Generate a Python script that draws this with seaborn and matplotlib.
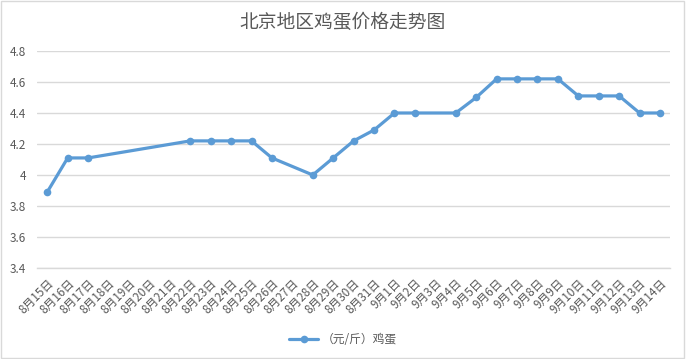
import numpy as np
import pandas as pd
import matplotlib
matplotlib.use("Agg")
import matplotlib.pyplot as plt
import matplotlib.patches as mpatches
import seaborn as sns

# Data
dates = ["8月15日", "8月16日", "8月17日", "8月18日", "8月19日", "8月20日", "8月21日",
         "8月22日", "8月23日", "8月24日", "8月25日", "8月26日", "8月27日", "8月28日",
         "8月29日", "8月30日", "8月31日", "9月1日", "9月2日", "9月3日", "9月4日",
         "9月5日", "9月6日", "9月7日", "9月8日", "9月9日", "9月10日", "9月11日",
         "9月12日", "9月13日", "9月14日"]
prices = [3.89, 4.11, 4.11, None, None, None, None,
          4.22, 4.22, 4.22, 4.22, 4.11, None, 4.00,
          4.11, 4.22, 4.29, 4.40, 4.40, None, 4.40,
          4.50, 4.62, 4.62, 4.62, 4.62, 4.51, 4.51,
          4.51, 4.40, 4.40]
series_name = "（元/斤）鸡蛋"
title = "北京地区鸡蛋价格走势图"
yticks = [3.4, 3.6, 3.8, 4.0, 4.2, 4.4, 4.6, 4.8]
ytick_labels = ["3.4", "3.6", "3.8", "4", "4.2", "4.4", "4.6", "4.8"]

# Style
sns.set_style("white")
plt.rcParams["font.family"] = ["Noto Sans CJK SC", "DejaVu Sans"]
BLUE = "#5B9BD5"
GRID = "#D9D9D9"
TEXT = "#595959"

df = pd.DataFrame({"date": dates, "price": prices})
df["pos"] = np.arange(len(df))
pts = df.dropna()

fig = plt.figure(figsize=(6.86, 3.59), dpi=100)
ax = fig.add_axes([0.054, 0.2535, 0.923, 0.6045])

sns.lineplot(data=pts, x="pos", y="price", ax=ax, color=BLUE, linewidth=2.3,
             marker="o", markersize=5.5, markeredgewidth=0, label=series_name)

ax.set_xlim(-0.5, len(dates) - 0.5)
ax.set_ylim(3.4, 4.8)
ax.set_yticks(yticks)
ax.set_yticklabels(ytick_labels)
ax.set_xticks(df["pos"])
ax.set_xticklabels(dates, rotation=45, ha="right", rotation_mode="anchor")
ax.set_xticks(np.arange(-0.5, len(dates), 1), minor=True)
ax.tick_params(axis="x", which="major", length=0, pad=6, labelsize=8.5, labelcolor=TEXT)
ax.tick_params(axis="x", which="minor", length=4, color=GRID, width=1, direction="out")
ax.tick_params(axis="y", length=0, labelsize=8.5, labelcolor=TEXT, pad=8)
ax.set_xlabel("")
ax.set_ylabel("")
ax.grid(axis="y", color=GRID, linewidth=1)
ax.set_axisbelow(True)
for s in ["top", "right", "left"]:
    ax.spines[s].set_visible(False)
ax.spines["bottom"].set_color(GRID)
ax.spines["bottom"].set_linewidth(1)

fig.text(0.5, 0.938, title, ha="center", va="center", fontsize=13.5, color=TEXT)

ax.legend(loc="center", bbox_to_anchor=(0.5, 0.053), bbox_transform=fig.transFigure,
          frameon=False, fontsize=8.5, labelcolor=TEXT, handlelength=2.5,
          handletextpad=0.3)

# chart border
fig.patches.append(mpatches.Rectangle((0.001, 0.002), 0.996, 0.995, transform=fig.transFigure,
                                      fill=False, edgecolor=GRID, linewidth=1))

plt.savefig("out.png", dpi=100, facecolor="white")
